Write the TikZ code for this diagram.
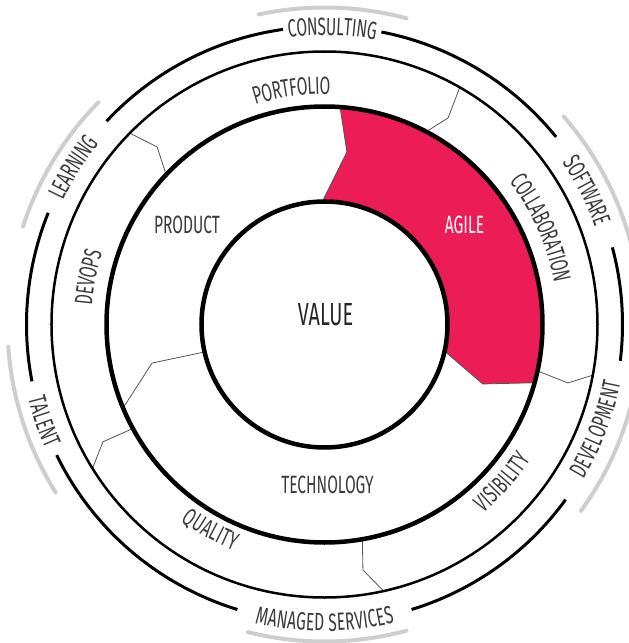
\documentclass[tikz,border=0pt]{standalone}
\usepackage{fontspec}
\newfontfamily\ringfont{Fira Sans}[FakeStretch=0.62]
\usetikzlibrary{decorations.text}
\definecolor{agilered}{RGB}{236,28,86}
\definecolor{labelgray}{RGB}{58,58,58}
\definecolor{tabgray}{RGB}{206,206,206}
\definecolor{seamgray}{RGB}{85,85,85}
\newcommand\ringtype{\ringfont\fontsize{25}{26}\selectfont}
% curved words: angle, radius, text
\newcommand\ringup[3]{\path[decorate,decoration={text along path,text align=center,raise=-8.6pt,
  text={|\ringtype\color{labelgray}|#3}}] (#1+40:#2pt) arc[start angle=#1+40,end angle=#1-40,radius=#2pt];}
\newcommand\ringdown[3]{\path[decorate,decoration={text along path,text align=center,raise=-8.6pt,
  text={|\ringtype\color{labelgray}|#3}}] (#1-40:#2pt) arc[start angle=#1-40,end angle=#1+40,radius=#2pt];}
\tikzset{
  ring/.style={line width=4.5pt},
  thinring/.style={line width=2.5pt},
  band/.style={line width=3pt},
  tab/.style={line width=4pt,tabgray,line cap=round},
  seam/.style={line width=0.8pt,seamgray},
  word/.style={font=\ringtype,text=labelgray,inner sep=0pt},
}
\begin{document}
\begin{tikzpicture}
\useasboundingbox (-324.5pt,-318.5pt) rectangle (304.5pt,324.5pt);
\clip (-324.5pt,-318.5pt) rectangle (304.5pt,324.5pt);

\fill[agilered] (91:123pt) -- (82.6:174pt) -- (85.9:218pt) arc[start angle=85.9,end angle=-15.5,radius=218pt]
  -- (-20.6:169pt) -- (-12.5:123pt) arc[start angle=-12.5,end angle=91,radius=123pt] -- cycle;

\draw[seam] (91:123pt) -- (82.6:174pt) -- (85.9:218pt);
\draw[seam] (-12.5:123pt) -- (-20.6:169pt) -- (-15.5:218pt);
\draw[seam] (192.9:123pt) -- (192.6:176.7pt) -- (202.5:218pt);

\draw[seam] (62.2:218pt) -- (59.1:240.6pt) -- (60.3:273pt);
\draw[seam] (136.6:218pt) -- (133.3:244pt) -- (135.5:273pt);
\draw[seam] (208.5:218pt) -- (207.9:250.7pt) -- (211.8:273pt);
\draw[seam] (-12.3:218pt) -- (-13.5:250.4pt) -- (-10.7:273pt);
\draw[seam] (-80:218pt) -- (-81.1:248.5pt) -- (-77.5:273pt);

\draw[ring] (0,0) circle[radius=123pt];
\draw[ring] (0,0) circle[radius=218pt];
\draw[thinring] (0,0) circle[radius=273pt];

\foreach \a/\b in {98/137,158/191,206/253,287/324,353/375,39/79}
  \draw[band] (\a:298pt) arc[start angle=\a,end angle=\b,radius=298pt];

\foreach \a/\b in {75/102,14/41,-36/-5,256/285,184/212,135.5/162}
  \draw[tab] (\a:317pt) arc[start angle=\a,end angle=\b,radius=317pt];

\ringup{88.5}{298}{CONSULTING}
\ringup{27}{296}{SOFTWARE}
\ringdown{-21}{293}{DEVELOPMENT}
\ringdown{-90}{298}{MANAGED SERVICES}
\ringdown{199}{297}{TALENT}
\ringup{148}{298}{LEARNING}

\ringup{98}{239}{PORTFOLIO}
\ringup{24}{242}{COLLABORATION}
\ringdown{-41.6}{238}{VISIBILITY}
\ringdown{241}{235}{QUALITY}
\ringup{168.7}{242}{DEVOPS}

\node[word,font=\ringfont\fontsize{32}{33}\selectfont,text=black!85] (value) at (1pt,9.5pt) {VALUE};
\node[word] (product) at (-137.5pt,99.5pt) {PRODUCT};
\node[word,text=white] (agile) at (140pt,100pt) {AGILE};
\node[word] (technology) at (3pt,-160pt) {TECHNOLOGY};

\end{tikzpicture}
\end{document}
